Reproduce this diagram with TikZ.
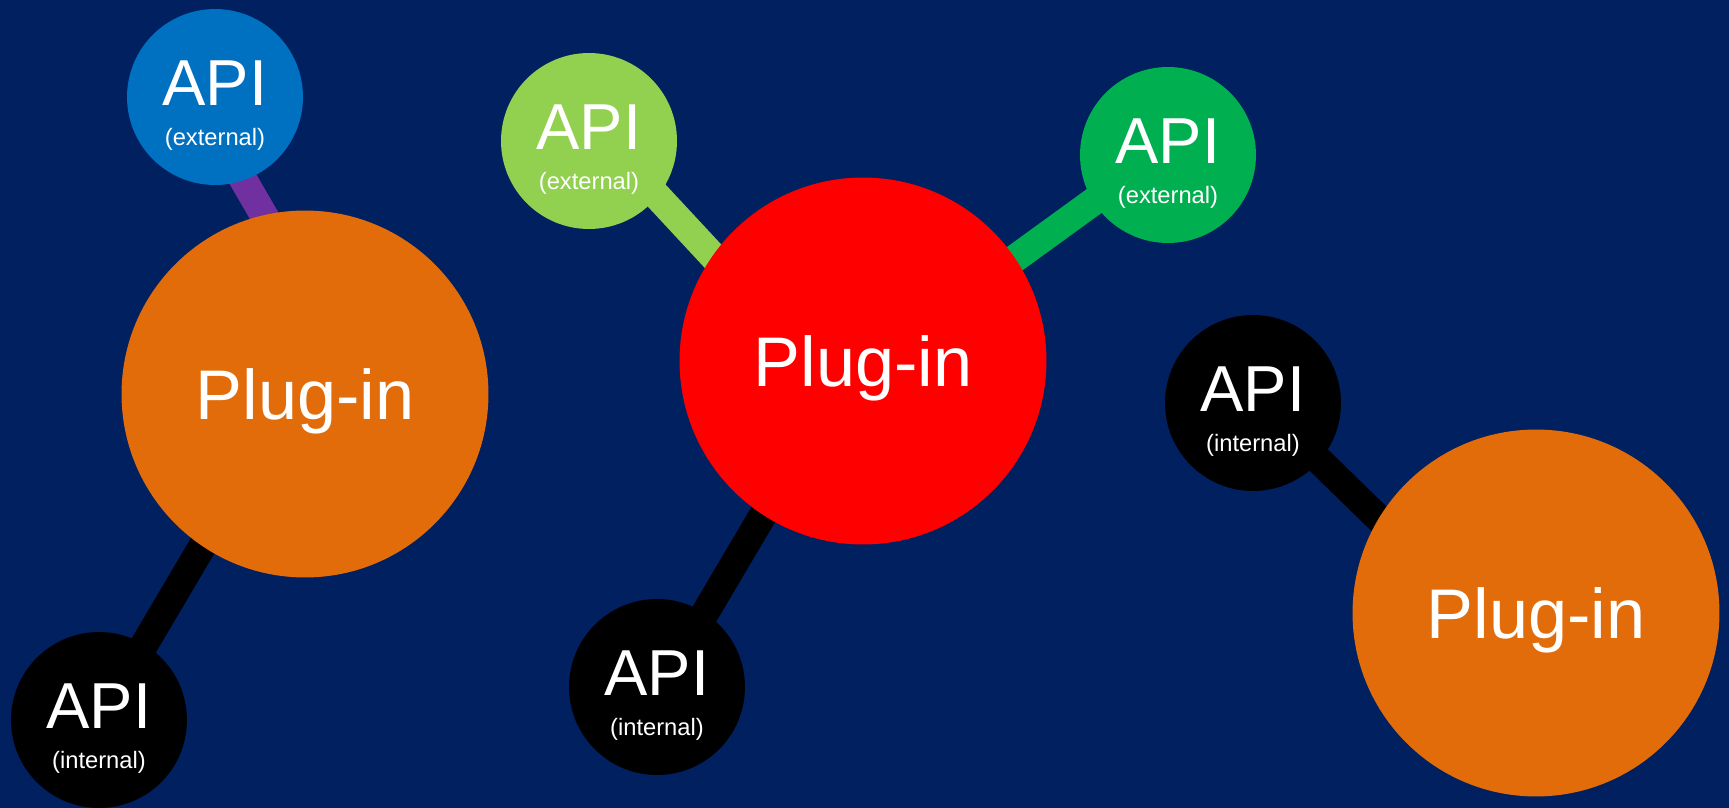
\documentclass[tikz,border=0pt]{standalone}
\usepackage{fontspec}
\setmainfont{Liberation Sans}
\definecolor{navy}{RGB}{0,32,96}
\definecolor{pluginorange}{RGB}{227,108,10}
\definecolor{pluginred}{RGB}{255,0,0}
\definecolor{apiblue}{RGB}{0,112,192}
\definecolor{apilime}{RGB}{146,208,80}
\definecolor{apigreen}{RGB}{0,176,80}
\definecolor{linkpurple}{RGB}{112,48,160}
\pgfdeclarelayer{bg}
\pgfdeclarelayer{links}
\pgfsetlayers{bg,links,main}
\newcommand{\apitext}[1]{{\fontsize{37}{23}\selectfont\rule{0pt}{35pt}API}\\(#1)}
\begin{document}
\begin{tikzpicture}[x=0.02cm,y=-0.02cm,
		api/.style={circle,inner sep=0pt,minimum size=3.52cm,text=white,align=center,font=\fontsize{13.5}{23}\selectfont},
		plugin/.style={circle,inner sep=0pt,minimum size=7.34cm,text=white,text depth=0pt,font=\fontsize{40}{44}\selectfont},
		link/.style={line width=0.56cm,shorten <=-12pt,shorten >=-12pt}]
		\useasboundingbox (0,0) rectangle (1729,808);
		\node[plugin,fill=pluginorange] (plugL) at (305,394) {Plug-in};
		\node[plugin,fill=pluginred] (plugM) at (863,361) {Plug-in};
		\node[plugin,fill=pluginorange] (plugR) at (1536,613) {Plug-in};
		\node[api,fill=apiblue] (extL) at (215,97) {\apitext{external}};
		\node[api,fill=black] (intL) at (99,720) {\apitext{internal}};
		\node[api,fill=apilime] (extM) at (589,141) {\apitext{external}};
		\node[api,fill=apigreen] (extR) at (1168,155) {\apitext{external}};
		\node[api,fill=black] (intM) at (657,687) {\apitext{internal}};
		\node[api,fill=black] (intR) at (1253,403) {\apitext{internal}};
		\begin{pgfonlayer}{bg}
			\fill[navy] (0,0) rectangle (1729,808);
		\end{pgfonlayer}
		\begin{pgfonlayer}{links}
			\foreach \a/\b/\c in {extL.-71/plugL.103/linkpurple,intL.59/plugL.236/black,extM.-39/plugM.145/apilime,extR.212/plugM.34/apigreen,intM.57/plugM.237/black,intR.-41/plugR.149/black}
				\draw[link,\c] (\a) -- (\b);
		\end{pgfonlayer}
	\end{tikzpicture}
\end{document}
